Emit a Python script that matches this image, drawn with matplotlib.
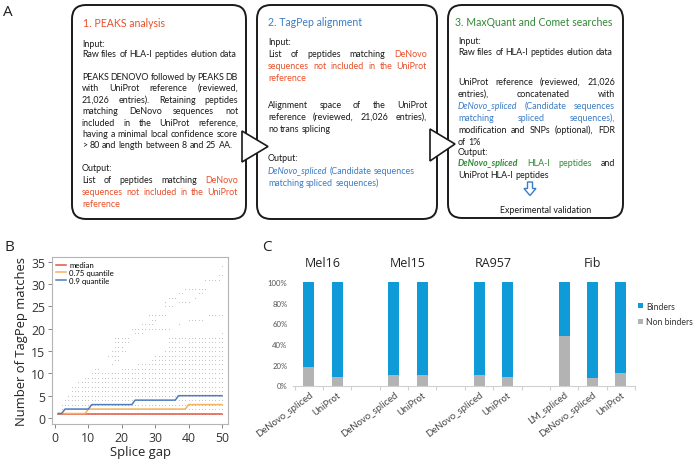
import matplotlib
matplotlib.use('Agg')
import matplotlib.pyplot as plt
from matplotlib.patches import FancyBboxPatch, Polygon
from matplotlib.font_manager import FontProperties
import numpy as np

# ---------------- data: panel B ----------------
splice_gap = list(range(1, 51))
q_median = [1, 1, 1, 1, 1, 1, 1, 1, 1, 1, 1, 1, 1, 1, 1, 1, 1, 1, 1, 1, 1, 1, 1, 1, 1,
            1, 1, 1, 1, 1, 1, 1, 1, 1, 1, 1, 1, 1, 1, 1, 1, 1, 1, 1, 1, 1, 1, 1, 1, 1]
q_075 = [1, 1, 1, 1, 1, 1, 1, 1, 1, 2, 2, 2, 2, 2, 2, 2, 2, 2, 2, 2, 2, 2, 2, 2, 2,
         2, 2, 2, 2, 2, 2, 2, 2, 2, 2, 2, 2, 2, 2, 3, 3, 3, 3, 3, 3, 3, 3, 3, 3, 3]
q_090 = [1, 1, 2, 2, 2, 2, 2, 2, 2, 2, 3, 3, 3, 3, 3, 3, 3, 3, 3, 3, 3, 3, 3, 4, 4,
         4, 4, 4, 4, 4, 4, 4, 4, 4, 4, 4, 5, 5, 5, 5, 5, 5, 5, 5, 5, 5, 5, 5, 5, 5]
# observed (splice gap, number of matches) points, as rows: (matches, first gap, last gap)
dot_rows = [
    (1, 1, 50), (2, 2, 50), (3, 2, 50), (4, 3, 50), (5, 4, 50), (6, 5, 50),
    (7, 5, 50), (8, 7, 50), (9, 9, 50), (10, 11, 50),
    (11, 12, 13), (11, 20, 50), (12, 17, 17), (12, 25, 50),
    (13, 18, 19), (13, 29, 50), (14, 16, 19), (14, 30, 50),
    (15, 17, 21), (15, 33, 50), (16, 18, 20), (16, 34, 50),
    (17, 18, 22), (17, 34, 37), (17, 40, 50), (18, 18, 22), (18, 34, 50),
    (19, 24, 26), (19, 50, 50), (20, 23, 34), (21, 26, 29), (21, 37, 37),
    (22, 29, 30), (22, 40, 44), (23, 28, 33), (23, 46, 50), (25, 33, 35),
    (26, 33, 33), (26, 37, 40), (27, 34, 36), (27, 42, 42),
    (28, 37, 38), (28, 43, 44), (29, 39, 45), (31, 45, 49), (32, 49, 50), (34, 50, 50),
]
b_x_ticks = [0, 10, 20, 30, 40, 50]
b_y_ticks = [0, 5, 10, 15, 20, 25, 30, 35]

# ---------------- data: panel C ----------------
groups = ['Mel16', 'Mel15', 'RA957', 'Fib']
bar_group = [0, 0, 1, 1, 2, 2, 3, 3, 3]
bar_labels = ['DeNovo_spliced', 'UniProt', 'DeNovo_spliced', 'UniProt',
              'DeNovo_spliced', 'UniProt', 'LM_spliced', 'DeNovo_spliced', 'UniProt']
non_binders = [18, 8, 10, 10, 10, 8, 48, 7, 12]
binders = [82, 92, 90, 90, 90, 92, 52, 93, 88]
c_y_ticks = [0, 20, 40, 60, 80, 100]

# ---------------- data: panel A text ----------------
box_titles = ['1. PEAKS analysis', '2. TagPep alignment', '3. MaxQuant and Comet searches']
box1_lines = [
    [('Input:', 'k')],
    [('Raw files of HLA-I peptides elution data', 'k')],
    [('PEAKS DENOVO followed by PEAKS DB', 'k')],
    [('with UniProt reference (reviewed,', 'k')],
    [('21,026 entries). Retaining peptides', 'k')],
    [('matching DeNovo sequences not', 'k')],
    [('included in the UniProt reference,', 'k')],
    [('having a minimal local confidence score', 'k')],
    [('> 80 and length between 8 and 25 AA.', 'k')],
    [('Output:', 'k')],
    [('List of peptides matching ', 'k'), ('DeNovo', 'r')],
    [('sequences not included in the UniProt', 'r')],
    [('reference', 'r')],
]
box2_lines = [
    [('Input:', 'k')],
    [('List of peptides matching ', 'k'), ('DeNovo', 'r')],
    [('sequences not included in the UniProt', 'r')],
    [('reference', 'r')],
    [('Alignment space of the UniProt', 'k')],
    [('reference (reviewed, 21,026 entries),', 'k')],
    [('no trans splicing', 'k')],
    [('Output:', 'k')],
    [('DeNovo_spliced', 'bi'), (' (Candidate sequences', 'b')],
    [('matching spliced sequences)', 'b')],
]
box3_lines = [
    [('Input:', 'k')],
    [('Raw files of HLA-I peptides elution data', 'k')],
    [('UniProt reference (reviewed, 21,026', 'k')],
    [('entries), concatenated with', 'k')],
    [('DeNovo_spliced', 'bi'), (' (Candidate sequences', 'b')],
    [('matching spliced sequences),', 'b')],
    [('modification and SNPs (optional), FDR', 'k')],
    [('of 1%', 'k')],
    [('Output:', 'k')],
    [('DeNovo_spliced', 'gbi'), (' HLA-I peptides', 'g'), (' and', 'k')],
    [('UniProt HLA-I peptides', 'k')],
]
validation_text = 'Experimental validation'

# ---------------- layout / style ----------------
W, H = 696, 460
RED, BLUE, GREEN = '#e8502a', '#3c7cc6', '#2f8a35'
styles = {
    'k': dict(color='#1a1a1a'),
    'r': dict(color=RED),
    'b': dict(color=BLUE),
    'bi': dict(color=BLUE, style='italic'),
    'g': dict(color=GREEN),
    'gbi': dict(color=GREEN, style='italic', weight='bold'),
}
BODY_FONT = 'Lato'
BODY_SIZE = 6.4

fig = plt.figure(figsize=(6.96, 4.6), dpi=100)
ax0 = fig.add_axes([0, 0, 1, 1])
ax0.set_xlim(0, W)
ax0.set_ylim(H, 0)
ax0.axis('off')
renderer = fig.canvas.get_renderer()


def fprop(st, size=BODY_SIZE):
    s = styles[st]
    return FontProperties(family=BODY_FONT, size=size, style=s.get('style', 'normal'),
                          weight=s.get('weight', 'normal'))


def tw(s, fp):
    w, h, d = renderer.get_text_width_height_descent(s, fp, ismath=False)
    return w


def draw_line(segs, x0, yb, width=None):
    words = []
    for text, st in segs:
        for wd in text.split(' '):
            if wd:
                words.append((wd, st))
    fp0 = fprop('k')
    space = tw('a a', fp0) - tw('aa', fp0)
    widths = [tw(wd, fprop(st)) for wd, st in words]
    if width is not None and len(words) > 1:
        gap = (width - sum(widths)) / (len(words) - 1)
    else:
        gap = space
    x = x0
    for (wd, st), wdt in zip(words, widths):
        ax0.text(x, yb, wd, fontproperties=fprop(st), color=styles[st]['color'],
                 va='baseline', ha='left')
        x += wdt + gap


boxes = [(72, 6, 174, 214), (257, 6, 180, 214), (448, 6, 175, 213)]
for (bx, by, bw, bh) in boxes:
    ax0.add_patch(FancyBboxPatch((bx, by), bw, bh,
                                 boxstyle='round,pad=0,rounding_size=14',
                                 fc='white', ec='#1a1a1a', lw=1.4, zorder=1))
for tri in ([[242, 132], [242, 163], [268, 147.5]], [[430, 130], [430, 162], [455, 145]]):
    ax0.add_patch(Polygon(tri, closed=True, fc='white', ec='#1a1a1a', lw=1.2, zorder=3))

title_cols = [RED, BLUE, GREEN]
title_pos = [(83, 27), (268, 26), (455, 26)]
for t, c, (tx, ty) in zip(box_titles, title_cols, title_pos):
    ax0.text(tx, ty, t, color=c, fontfamily=BODY_FONT, fontsize=7.6, va='baseline')

# per-line baseline y and justification flag
b1_y = [47, 57, 80, 91, 103, 114, 126, 137, 148, 171, 183, 195, 207]
b1_j = [False, False, True, True, True, True, True, True, False, False, True, True, False]
for segs, yb, j in zip(box1_lines, b1_y, b1_j):
    draw_line(segs, 82, yb, 156 if j else None)

b2_y = [45, 57, 69, 81, 108, 120, 132, 161, 174, 186]
b2_j = [False, True, True, False, True, True, False, False, False, False]
for segs, yb, j in zip(box2_lines, b2_y, b2_j):
    draw_line(segs, 268, yb, 159 if j else None)

b3_y = [44, 55, 85, 97, 109, 121, 133, 145, 155, 166, 178]
b3_j = [False, False, True, True, True, True, True, False, False, True, False]
for segs, yb, j in zip(box3_lines, b3_y, b3_j):
    draw_line(segs, 458, yb, 157 if j else None)

# down arrow + experimental validation
ax0.add_patch(Polygon([[527.5, 183], [532.5, 183], [532.5, 189.5], [536, 189.5],
                       [530, 196.5], [524, 189.5], [527.5, 189.5]], closed=True,
                      fc='white', ec=BLUE, lw=1.0, zorder=3))
ax0.text(546, 213, validation_text, fontfamily=BODY_FONT, fontsize=BODY_SIZE,
         color='#1a1a1a', ha='center', va='baseline')

# panel letters
for lab, (lx, ly) in zip(['A', 'B', 'C'], [(3, 12), (4, 248), (262, 248)]):
    ax0.text(lx, ly, lab, fontsize=11, fontfamily='Open Sans', color='#222',
             va='center', ha='left')

# ---------------- panel B ----------------
axb = fig.add_axes([52 / W, 1 - 425 / H, 176 / W, 167 / H])
dx, dy = [], []
for (cnt, g0, g1) in dot_rows:
    for g in range(g0, g1 + 1):
        dx.append(g)
        dy.append(cnt)
axb.scatter(dx, dy, s=0.6, color='#bdbdbd', linewidths=0, zorder=1)
lw = 1.1
axb.plot(splice_gap, q_median, color='#e4553f', lw=lw, label='median', zorder=3)
axb.plot(splice_gap, q_075, color='#f3b25e', lw=lw, label='0.75 quantile', zorder=3)
axb.plot(splice_gap, q_090, color='#4f7cba', lw=lw, label='0.9 quantile', zorder=4)
axb.set_xlim(-0.9, 51.8)
axb.set_ylim(-1.35, 36.1)
axb.set_xticks(b_x_ticks)
axb.set_yticks(b_y_ticks)
for sp in axb.spines.values():
    sp.set_color('#b5b5b5')
    sp.set_linewidth(0.8)
axb.tick_params(colors='#888', labelcolor='#333', labelsize=8.8, length=3, width=0.7, pad=2)
for t in axb.get_xticklabels() + axb.get_yticklabels():
    t.set_fontfamily('Open Sans')
axb.set_xlabel('Splice gap', fontsize=9.4, fontfamily='Open Sans', color='#222', labelpad=1)
axb.set_ylabel('Number of TagPep matches', fontsize=9.4, fontfamily='Open Sans',
               color='#222', labelpad=2)
axb.legend(loc='upper left', frameon=False, handlelength=1.3,
           handletextpad=0.35, labelspacing=0.1, borderaxespad=0.15,
           prop=dict(family='Lato', size=5.6))

# ---------------- panel C ----------------
axc = fig.add_axes([293 / W, 1 - 386.5 / H, 342 / W, 103.5 / H])
pos = [i + g for i, g in enumerate(bar_group)]
bw = 0.39
b1 = axc.bar(pos, non_binders, width=bw, color='#b3b3b3', label='Non binders', zorder=2)
b2 = axc.bar(pos, binders, width=bw, bottom=non_binders, color='#0f9ad8', label='Binders',
             zorder=2)
axc.set_xlim(-0.56, 11.48)
axc.set_ylim(0, 100)
axc.set_yticks(c_y_ticks)
axc.set_yticklabels([f'{v}%' for v in c_y_ticks])
axc.set_xticks(pos)
axc.set_xticklabels(bar_labels, rotation=37, ha='right', rotation_mode='anchor')
axc.set_xticks(np.arange(-0.5, 12, 1), minor=True)
for sp in ['top', 'right', 'left']:
    axc.spines[sp].set_visible(False)
axc.spines['bottom'].set_color('#d0d0d0')
axc.spines['bottom'].set_linewidth(0.8)
axc.tick_params(axis='y', length=0, labelsize=5.6, labelcolor='#555', pad=4)
axc.tick_params(axis='x', which='major', length=0, labelsize=6.8, labelcolor='#444', pad=3)
axc.tick_params(axis='x', which='minor', length=3, color='#d0d0d0', width=0.8)
for t in axc.get_xticklabels() + axc.get_yticklabels():
    t.set_fontfamily('Lato')
for gi, gname in enumerate(groups):
    gp = [p for p, g in zip(pos, bar_group) if g == gi]
    axc.text(np.mean(gp), 1.19, gname, transform=axc.get_xaxis_transform(),
             ha='center', va='center', fontsize=9, fontfamily='Open Sans', color='#222')
axc.legend(handles=[b2, b1], loc='center left', bbox_to_anchor=(632 / W, 1 - 315 / H),
           bbox_transform=fig.transFigure, frameon=False,
           handlelength=0.6, handleheight=0.6, handletextpad=0.35, labelspacing=0.8,
           borderpad=0.2, prop=dict(family='Lato', size=6.2), labelcolor='#333')

fig.savefig('out.png', dpi=100)
